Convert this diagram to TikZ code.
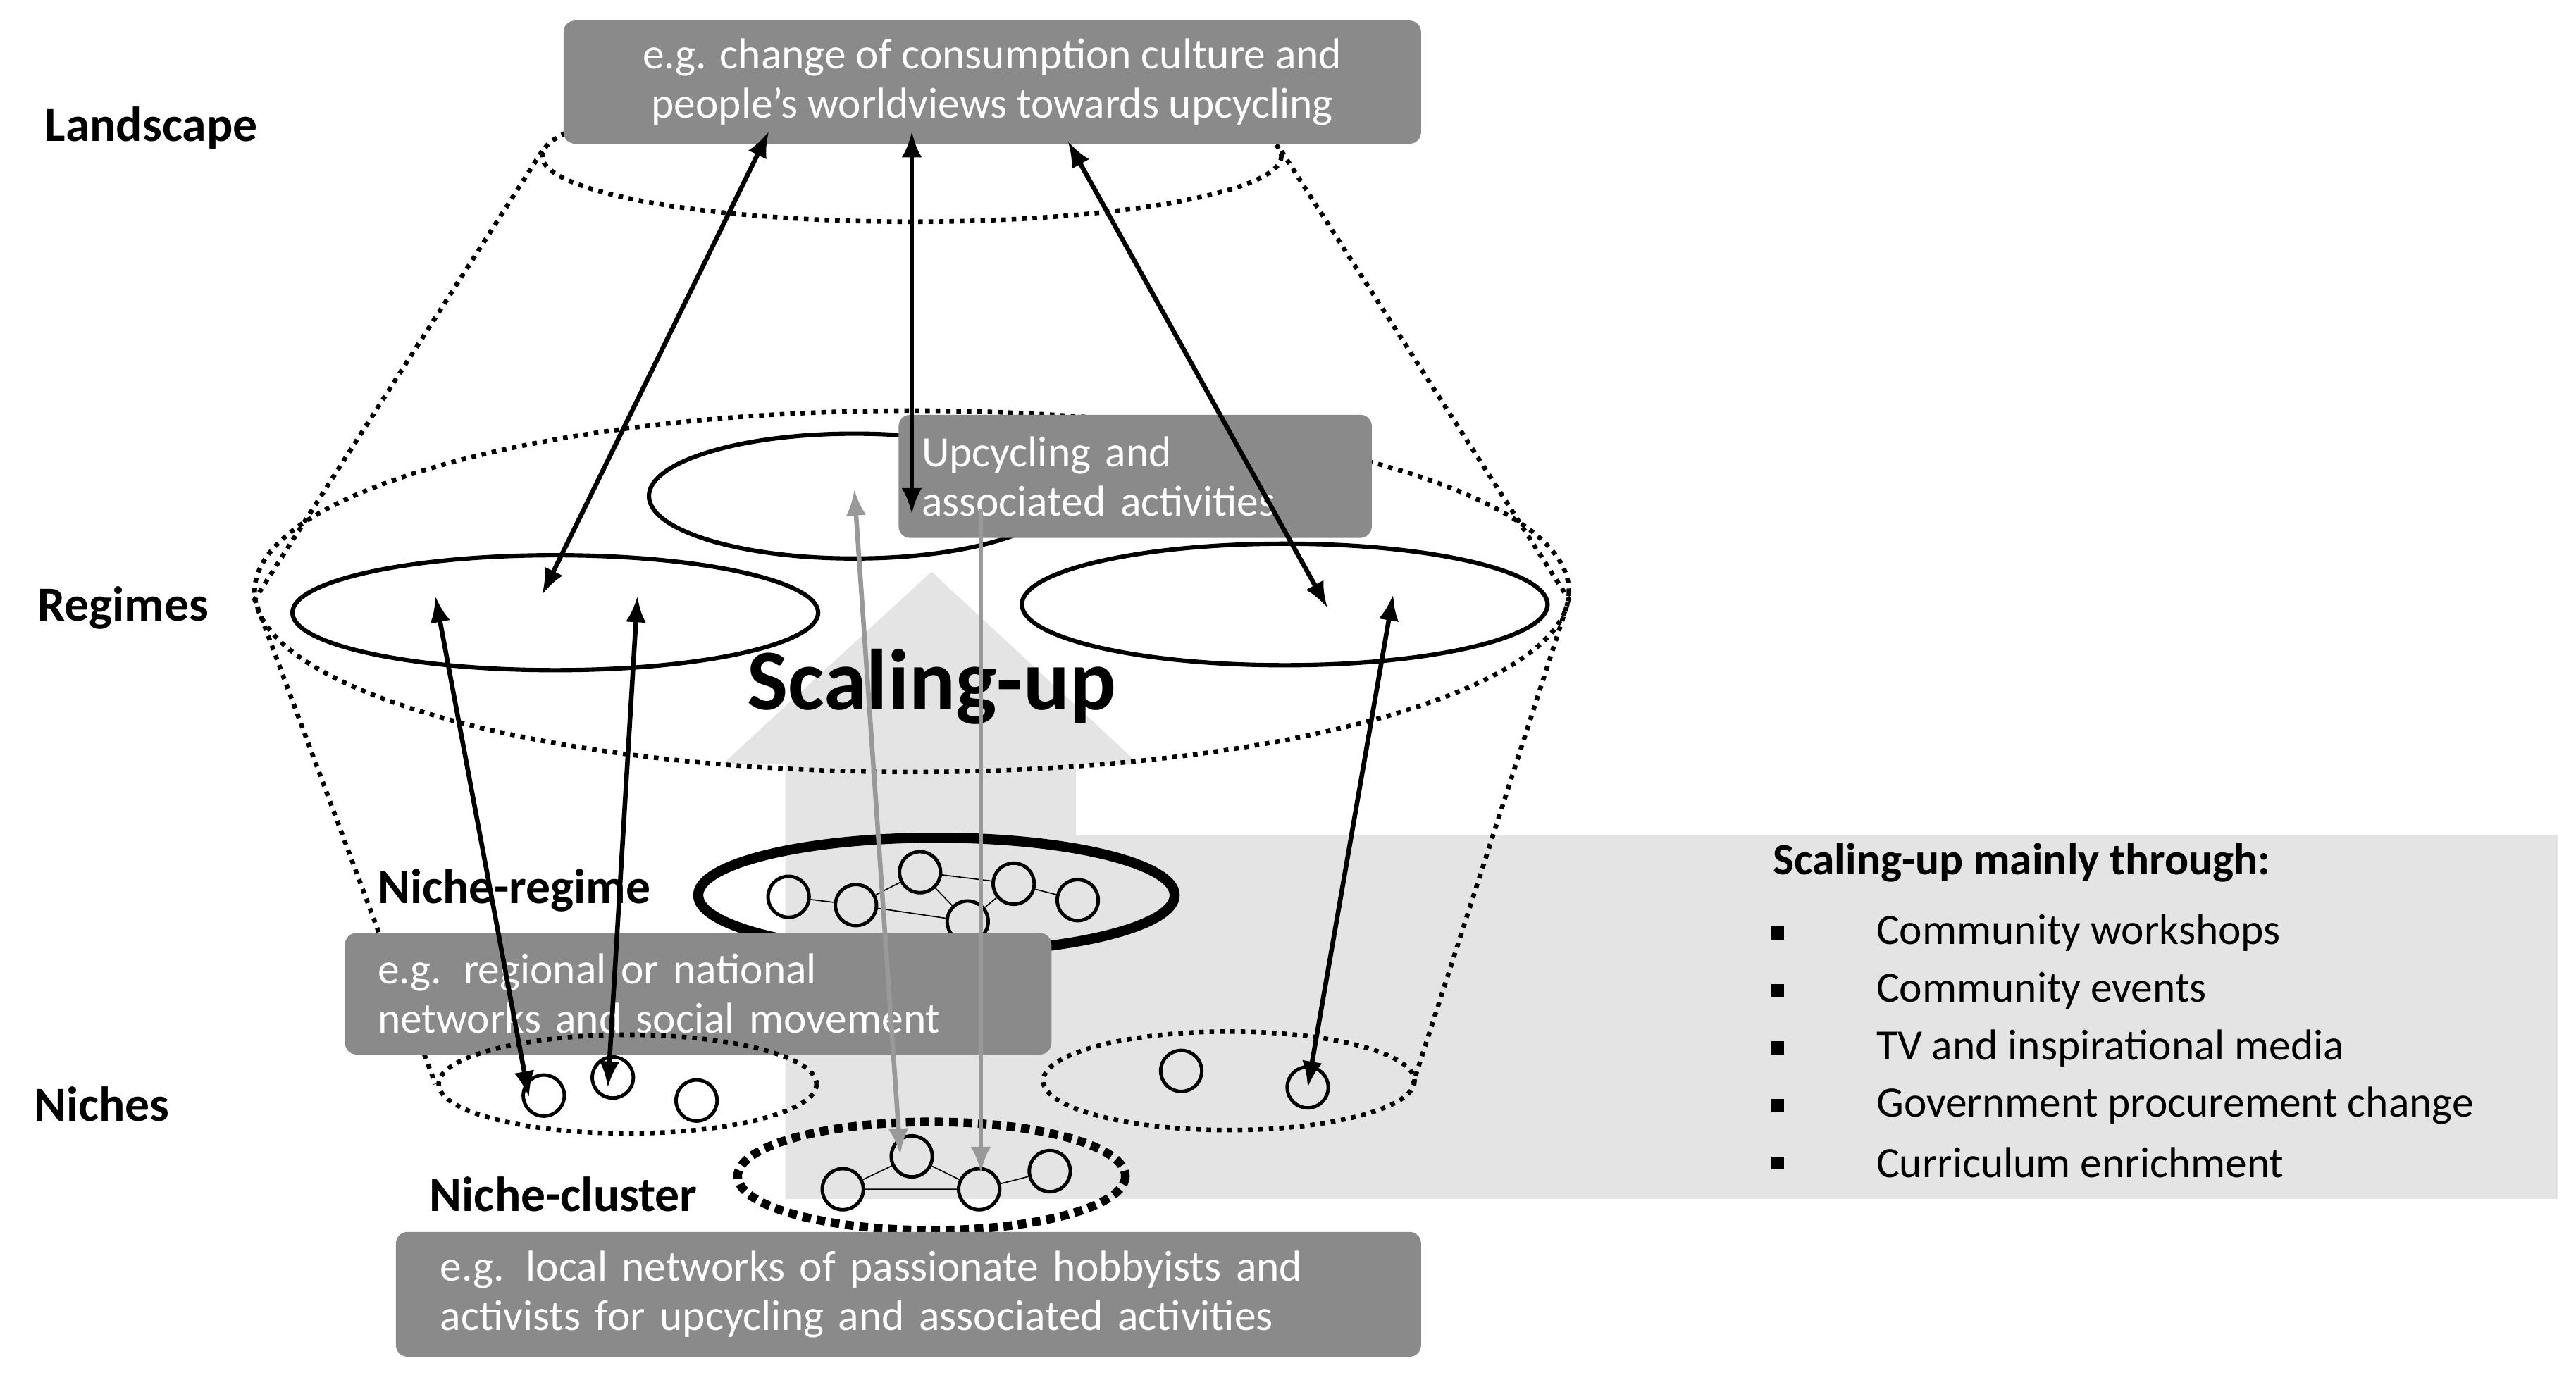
\documentclass[tikz,border=0pt]{standalone}
\usepackage{fontspec}
\setmainfont{Carlito}
\usetikzlibrary{arrows.meta}
\definecolor{boxg}{HTML}{8A8A8A}
\definecolor{lightg}{HTML}{E4E4E4}
\begin{document}
\begin{tikzpicture}[x=0.02cm,y=-0.02cm,
 gbox/.style={fill=boxg,rounded corners=4pt,text=white,font=\fontsize{15}{17}\selectfont,align=left,inner sep=0pt},
 lvl/.style={font=\bfseries\fontsize{17}{19}\selectfont},
 dots/.style={line width=1.6pt,dotted},
 ring/.style={line width=1.5pt},
 sm/.style={circle,draw,line width=1.2pt,minimum size=0.5cm,inner sep=0pt},
 arr/.style={line width=1.6pt,{Latex[length=9pt,width=7pt]}-{Latex[length=9pt,width=7pt]}},
 garr/.style={arr,draw=gray!80},
 bul/.style={font=\fontsize{15}{17}\selectfont,anchor=west}]
\useasboundingbox (0,0) rectangle (1568,840);
% background light shapes
\fill[lightg] (478,508) rectangle (1557,730);
\fill[lightg] (478,730) -- (478,465) -- (440,465) -- (567,348) -- (693,465) -- (655,465) -- (655,730) -- cycle;
% landscape
\draw[dots] (555,95) ellipse [x radius=225,y radius=40];
\node[gbox,minimum width=522*0.02cm,minimum height=75*0.02cm,align=center] (land) at (604,50) {e.g. change of consumption culture and\\people’s worldviews towards upcycling};
% trapezoid sides
\draw[dots] (330,92) -- (155,365) -- (265,660);
\draw[dots] (780,92) -- (955,365) -- (860,660);
% regimes
\draw[dots] (555,360) ellipse [x radius=400,y radius=110];
\draw[ring] (338,373) ellipse [x radius=160,y radius=35];
\draw[ring] (520,302) ellipse [x radius=125,y radius=38];
\draw[ring] (782,368) ellipse [x radius=160,y radius=37];
\node[gbox,minimum width=288*0.02cm,minimum height=75*0.02cm,text width=260*0.02cm] (up) at (691,290) {Upcycling and\\associated activities};
\node[font=\bfseries\fontsize{30}{34}\selectfont] (sc) at (567,418) {Scaling-up};
% niche-regime
\draw[line width=3.5pt] (570,545) ellipse [x radius=145,y radius=35];
\node[sm] (r1) at (480,546) {}; \node[sm] (r2) at (521,551) {}; \node[sm] (r3) at (560,531) {};
\node[sm] (r4) at (589,561) {}; \node[sm] (r5) at (617,538) {}; \node[sm] (r6) at (656,548) {};
\draw[thin] (r1)--(r2)--(r3)--(r5)--(r6) (r2)--(r4)--(r5) (r3)--(r4);
\node[lvl] (nrl) at (313,542) {Niche-regime};
\node[gbox,minimum width=430*0.02cm,minimum height=74*0.02cm,text width=390*0.02cm] (nrb) at (425,605) {e.g. regional or national\\networks and social movement};
% niches
\draw[dots] (382,660) ellipse [x radius=115,y radius=30];
\draw[dots] (748,658) ellipse [x radius=113,y radius=30];
\node[sm] (n1) at (331,667) {}; \node[sm] (n2) at (373,656) {}; \node[sm] (n3) at (424,670) {};
\node[sm] (n4) at (719,652) {}; \node[sm] (n5) at (796,662) {};
% niche cluster
\draw[line width=3pt,dotted] (567,716) ellipse [x radius=118,y radius=33];
\node[sm] (c1) at (513,724) {}; \node[sm] (c2) at (555,704) {}; \node[sm] (c3) at (596,724) {}; \node[sm] (c4) at (639,713) {};
\draw[thin] (c1)--(c2)--(c3)--(c4) (c1)--(c3);
\node[lvl] (ncl) at (343,727) {Niche-cluster};
\node[gbox,minimum width=624*0.02cm,minimum height=76*0.02cm,text width=570*0.02cm] (ncb) at (553,788) {e.g. local networks of passionate hobbyists and\\activists for upcycling and associated activities};
% level labels
\node[lvl] (lL) at (92,78) {Landscape};
\node[lvl] (lR) at (75,370) {Regimes};
\node[lvl] (lN) at (62,672) {Niches};
% list
\node[font=\bfseries\fontsize{15.5}{17}\selectfont,anchor=west] (lt) at (1073,525) {Scaling-up mainly through:};
\foreach \t [count=\i] in {Community workshops,Community events,TV and inspirational media,Government procurement change,Curriculum enrichment}{
 \fill (1078,529+35*\i) rectangle (1086,537+35*\i);
 \node[bul] (t\i) at (1136,533+35*\i) {\t};}
% arrows
\coordinate (a1) at (468,80); \coordinate (a1b) at (330,362);
\coordinate (a2) at (555,80); \coordinate (a2b) at (555,313);
\coordinate (a3) at (650,86); \coordinate (a3b) at (808,370);
\coordinate (a4) at (265,363); \coordinate (a4b) at (322,668);
\coordinate (a5) at (388,363); \coordinate (a5b) at (370,662);
\coordinate (a6) at (848,362); \coordinate (a6b) at (796,662);
\coordinate (g1) at (520,298); \coordinate (g1b) at (548,703);
\coordinate (g2) at (597,310); \coordinate (g2b) at (597,714);
\draw[arr] (a1)--(a1b); \draw[arr] (a2)--(a2b); \draw[arr] (a3)--(a3b);
\draw[arr] (a4)--(a4b); \draw[arr] (a5)--(a5b); \draw[arr] (a6)--(a6b);
\draw[garr] (g1)--(g1b);
\draw[line width=1.6pt,draw=gray!80,-{Latex[length=9pt,width=7pt]}] (g2)--(g2b);
\end{tikzpicture}
\end{document}
